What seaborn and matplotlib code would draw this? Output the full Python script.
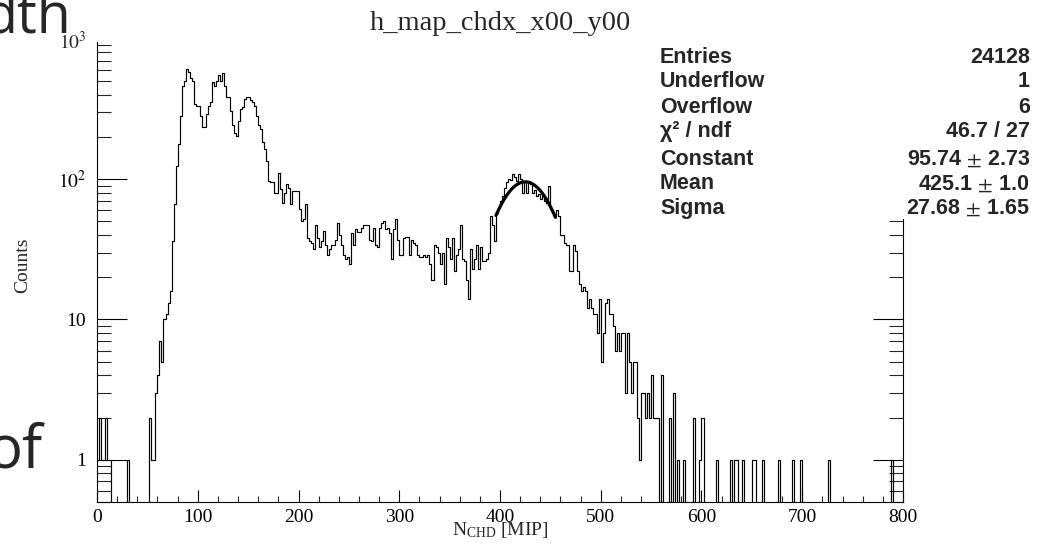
import numpy as np
import pandas as pd
import matplotlib
matplotlib.use("Agg")
import matplotlib.pyplot as plt
import seaborn as sns
from matplotlib.ticker import MultipleLocator, LogLocator, FixedLocator, FixedFormatter, NullFormatter
from matplotlib.patches import Rectangle

# ---------------- data ----------------
bin_width = 2
x_min, x_max = 0, 800
counts = [
    1, 2, 1, 1, 2, 1, 1, 0, 0, 0,            # 0-20
    0, 0, 0, 0, 0, 1, 0, 0, 0, 0,            # 20-40
    0, 0, 0, 0, 0, 0, 2, 1, 1, 3,            # 40-60
    4, 7, 5, 10, 11, 13, 16, 36, 67, 124,    # 60-80
    177, 283, 464, 504, 611, 584, 524, 504, 343, 333,   # 80-100
    333, 283, 234, 234, 291, 333, 353, 495, 464, 504,   # 100-120
    556, 504, 573, 464, 388, 383, 307, 245, 215, 204,   # 120-140
    261, 316, 325, 372, 388, 388, 364, 353, 333, 283,   # 140-160
    245, 227, 183, 163, 135, 97, 95, 95, 80, 80,        # 160-180
    110, 85, 68, 80, 92, 87, 66, 83, 83, 83,            # 180-200
    61, 50, 52, 67, 38, 36, 35, 32, 47, 38,             # 200-220
    33, 36, 43, 34, 29, 32, 34, 34, 37, 49,             # 220-240
    40, 34, 29, 27, 28, 25, 41, 34, 44, 42,             # 240-260
    42, 45, 47, 47, 47, 37, 36, 45, 34, 33,             # 260-280
    45, 49, 50, 44, 45, 41, 27, 44, 52, 37,             # 280-300
    29, 29, 38, 39, 39, 29, 37, 35, 34, 29,             # 300-320
    28, 28, 29, 28, 29, 25, 19, 34, 33, 30,             # 320-340
    25, 30, 18, 38, 33, 27, 38, 22, 29, 32,             # 340-360
    47, 27, 26, 19, 14, 32, 23, 27, 34, 23,             # 360-380
    33, 26, 26, 27, 30, 55, 47, 36, 57, 62,             # 380-400
    70, 76, 86, 95, 100, 98, 108, 104, 97, 108,         # 400-420
    100, 80, 95, 80, 97, 92, 80, 84, 76, 78,            # 420-440
    72, 76, 70, 68, 90, 61, 58, 55, 60, 55,             # 440-460
    40, 40, 35, 34, 22, 22, 34, 31, 22, 18,             # 460-480
    16, 17, 16, 12, 14, 12, 11, 11, 8, 14,              # 480-500
    5, 8, 13, 14, 11, 11, 9, 6, 8, 6,                   # 500-520
    8, 8, 3, 8, 5, 3, 5, 5, 2, 1,                       # 520-540
    3, 3, 2, 3, 2, 4, 2, 2, 2, 0,                       # 540-560
    4, 0, 0, 0, 2, 0, 3, 0, 1, 0,                       # 560-580
    0, 1, 0, 0, 0, 0, 2, 0, 0, 1,                       # 580-600
    2, 0, 0, 0, 0, 0, 0, 1, 0, 0,                       # 600-620
    0, 0, 0, 0, 1, 0, 1, 1, 0, 0,                       # 620-640
    1, 0, 0, 0, 0, 1, 1, 0, 0, 0,                       # 640-660
    1, 0, 0, 0, 0, 0, 0, 0, 1, 0,                       # 660-680
    0, 0, 0, 0, 0, 1, 0, 0, 0, 1,                       # 680-700
    0, 0, 0, 0, 0, 0, 0, 0, 0, 0,                       # 700-720
    0, 0, 0, 1, 0, 0, 0, 0, 0, 0,                       # 720-740
    0, 0, 0, 0, 0, 0, 0, 0, 0, 0,                       # 740-760
    0, 0, 0, 0, 0, 0, 0, 0, 0, 0,                       # 760-780
    0, 0, 0, 0, 1, 0, 0, 0, 0, 0,                       # 780-800
]
fit_constant, fit_mean, fit_sigma = 95.74, 425.1, 27.68
fit_range = [396, 455]

title = "h_map_chdx_x00_y00"
xlabel = r"$\mathregular{N_{CHD}}$ [MIP]"
ylabel = "Counts"
ytick_values = [1, 10, 100]
ytick_labels = ["1", "10", r"$10^{2}$"]
ytop_label = r"$10^{3}$"
xtick_values = [0, 100, 200, 300, 400, 500, 600, 700, 800]

stats_labels = ["Entries", "Underflow", "Overflow", "χ² / ndf",
                "Constant", "Mean", "Sigma"]
stats_values = ["24128", "1", "6", "46.7 / 27", r"95.74 $\pm$ 2.73",
                r"425.1 $\pm$ 1.0", r"27.68 $\pm$ 1.65"]

# ---------------- style ----------------
sns.set_theme(style="white")
plt.rcParams["font.family"] = ["Liberation Serif", "DejaVu Serif"]
plt.rcParams["mathtext.fontset"] = "stix"
plt.rcParams["axes.linewidth"] = 0.8

W, H = 1038, 552
fig = plt.figure(figsize=(W / 100, H / 100), dpi=100)
fig.patch.set_facecolor("white")
ax = fig.add_axes([97 / W, 50 / H, 806 / W, 460 / H])
ax.set_facecolor("white")

centers = np.arange(x_min, x_max, bin_width) + bin_width / 2
df = pd.DataFrame({"x": centers, "w": counts})
sns.histplot(data=df, x="x", weights="w", binwidth=bin_width,
             binrange=(x_min, x_max), element="step",
             fill=False, color="black", linewidth=0.85, ax=ax)

xf = np.linspace(fit_range[0], fit_range[1], 200)
fit_df = pd.DataFrame({"x": xf,
                       "y": fit_constant * np.exp(-0.5 * ((xf - fit_mean) / fit_sigma) ** 2)})
sns.lineplot(data=fit_df, x="x", y="y", color="black", linewidth=2.3, ax=ax)

ax.set_yscale("log")
ax.set_xlim(x_min, x_max)
ax.set_ylim(0.5, 950)
ax.set_xlabel("")
ax.set_ylabel("")

ax.yaxis.set_major_locator(FixedLocator(ytick_values))
ax.yaxis.set_major_formatter(FixedFormatter(ytick_labels))
ax.yaxis.set_minor_locator(LogLocator(base=10, subs=np.arange(2, 10)))
ax.yaxis.set_minor_formatter(NullFormatter())
ax.xaxis.set_major_locator(FixedLocator(xtick_values))
ax.xaxis.set_minor_locator(MultipleLocator(20))

ax.tick_params(axis="y", which="major", direction="in", length=21.6, width=0.8,
               left=True, right=True, labelsize=14, pad=8, colors="black")
ax.tick_params(axis="y", which="minor", direction="in", length=10, width=0.8,
               left=True, right=True)
ax.tick_params(axis="x", which="major", direction="in", length=8.6, width=0.8,
               bottom=True, top=False, labelsize=14, pad=5, colors="black")
ax.tick_params(axis="x", which="minor", direction="in", length=4.3, width=0.8,
               bottom=True, top=False)
ax.spines["top"].set_visible(False)
for s in ["left", "right", "bottom"]:
    ax.spines[s].set_color("black")
    ax.spines[s].set_linewidth(0.8)

fig.text(87 / W, 1 - 42 / H, ytop_label, ha="right", va="center", fontsize=14)
fig.text(23 / W, 1 - 265 / H, ylabel, rotation=90, ha="center", va="center", fontsize=14)
fig.text(500 / W, 1 - 535 / H, xlabel, ha="center", va="baseline", fontsize=14)
fig.text(500 / W, 1 - 30 / H, title, ha="center", va="baseline", fontsize=20.5)

# stats box
fig.patches.append(Rectangle((650 / W, 1 - 219 / H), (W - 650) / W, (219 - 37) / H,
                             transform=fig.transFigure, facecolor="white",
                             edgecolor="none", zorder=3))
baselines = [62.7, 87.3, 112.7, 136.7, 165, 189.3, 214]
for lab, val, yb in zip(stats_labels, stats_values, baselines):
    fig.text(660 / W, 1 - yb / H, lab, ha="left", va="baseline", fontsize=15.5,
             family=["Liberation Sans", "DejaVu Sans"], weight="bold", zorder=4)
    fig.text(1030 / W, 1 - yb / H, val, ha="right", va="baseline", fontsize=15.5,
             family=["Liberation Sans", "DejaVu Sans"], weight="bold", zorder=4)

# stray slide text fragments
fig.text(72 / W, 1 - 33 / H, "dth", ha="right", va="baseline", fontsize=40,
         family=["Open Sans", "DejaVu Sans"])
fig.text(43 / W, 1 - 467 / H, "of", ha="right", va="baseline", fontsize=43,
         family=["Open Sans", "DejaVu Sans"])

fig.savefig("out.png", dpi=100, facecolor="white")
